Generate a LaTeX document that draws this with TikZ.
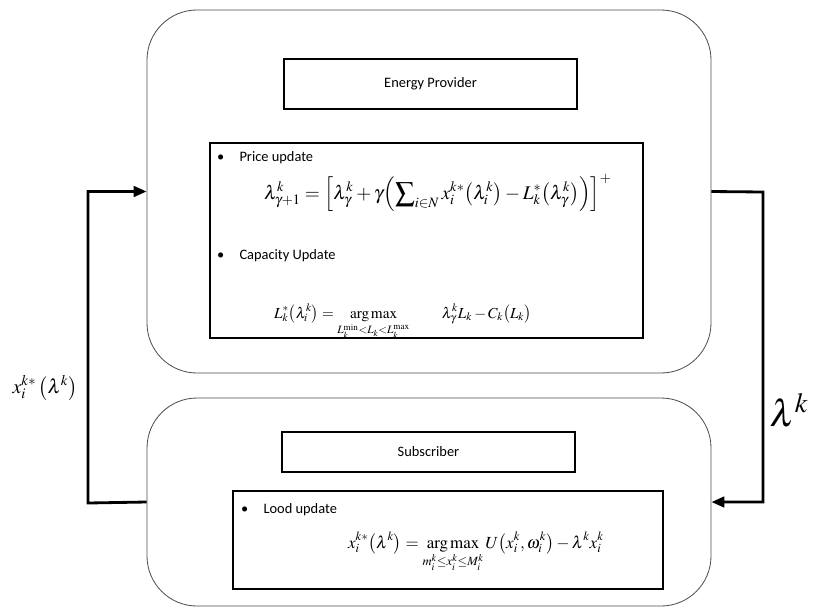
\documentclass[tikz,border=0pt]{standalone}
\usepackage{amsmath}
\usepackage{mathptmx}
\usepackage[no-math]{fontspec}
\setmainfont{Carlito}
\usetikzlibrary{arrows.meta}
\newcommand{\eqn}[1]{$\displaystyle #1$}
\newcommand{\amax}{\operatorname*{arg\,max}}

\begin{document}
\begin{tikzpicture}[x=0.03cm,y=-0.03cm,
    outer/.style={draw=black!70,line width=0.7pt,rounded corners=1.5cm,minimum width=16.92cm,inner sep=0pt},
    box/.style={draw,line width=1.5pt,inner sep=0pt},
    flow/.style={line width=2.4pt,-{Triangle[length=11pt,width=9pt]}},
    every node/.style={font=\fontsize{12.3}{14}\selectfont}]
\useasboundingbox (0,0) rectangle (817,608);
% nodes

\node[outer,minimum height=10.89cm] (prov) at (429,191.5) {};
\node[outer,minimum height=6.24cm] (sub) at (429,502) {};

\node[box,minimum width=8.79cm,minimum height=1.5cm] (provname) at (430.5,84) {Energy Provider};
\node[box,minimum width=8.79cm,minimum height=1.2cm] (subname) at (428.5,452) {Subscriber};

\node[box,minimum width=12.99cm,minimum height=5.85cm] (provbody) at (426.5,240.5) {};
\node[box,minimum width=12.9cm,minimum height=2.94cm] (subbody) at (448,540) {};

% provider updates
\node[anchor=west] (price) at (213,158) {\textbullet\hspace{13pt}Price update};
\node[anchor=west,font=\fontsize{16.5}{19}\selectfont] (priceeq) at (260,193)
    {\eqn{\lambda_{\gamma+1}^{k}=\Bigl[\lambda_{\gamma}^{k}+\gamma\Bigl(\sum\nolimits_{i\in N}x_i^{k*}\bigl(\lambda_i^{k}\bigr)-L_k^{*}\bigl(\lambda_\gamma^{k}\bigr)\Bigr)\Bigr]^{+}}};
\node[anchor=west] (cap) at (213,256) {\textbullet\hspace{13pt}Capacity Update};
\node[anchor=base west,font=\fontsize{13}{15}\selectfont] (capeq) at (270,318)
    {\eqn{L_k^{*}\bigl(\lambda_i^{k}\bigr)=\amax_{L_k^{\min}<L_k<L_k^{\max}}\qquad\lambda_\gamma^{k}L_k-C_k\bigl(L_k\bigr)}};

% subscriber update
\node[anchor=west] (load) at (237,510) {\textbullet\hspace{13pt}Lood update};
\node[anchor=base west,font=\fontsize{14.5}{17}\selectfont] (loadeq) at (344,548)
    {\eqn{x_i^{k*}\bigl(\lambda^{k}\bigr)=\amax_{m_i^k\le x_i^k\le M_i^k}U\bigl(x_i^{k},\omega_i^{k}\bigr)-\lambda^{k}x_i^{k}}};

% exchange
\coordinate (lturn) at (88,503);
\coordinate (rturn) at (763,192);
\draw[flow] (sub.west) -- (lturn) |- (prov.west);
\draw[flow] (prov.east) -- (rturn) |- (sub.east);

\node[font=\fontsize{17}{20}\selectfont] (demand) at (45,388) {$x_i^{k*}\left(\lambda^{k}\right)$};
\node[font=\fontsize{32}{36}\selectfont] (lam) at (789,410) {$\lambda^{k}$};
\end{tikzpicture}
\end{document}
